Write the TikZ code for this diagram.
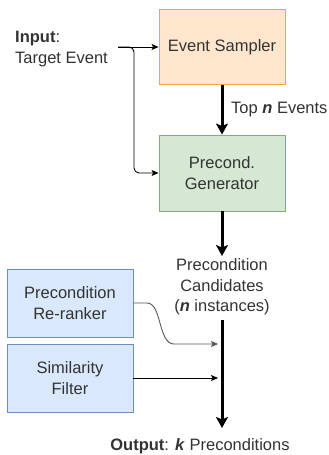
\documentclass[tikz,border=0pt]{standalone}
\usepackage{fontspec}
\setmainfont{Liberation Sans}
\usetikzlibrary{arrows.meta}
\definecolor{txt}{HTML}{333333}
\definecolor{orfill}{HTML}{FFE6CC}
\definecolor{ordraw}{HTML}{E8AE30}
\definecolor{grfill}{HTML}{D5E8D4}
\definecolor{grdraw}{HTML}{82B366}
\definecolor{blfill}{HTML}{DAE8FC}
\definecolor{bldraw}{HTML}{6C8EBF}
\tikzset{
  lbl/.style={font=\fontsize{16.5}{20.5}\selectfont, text=txt, align=center, inner sep=0pt},
  box/.style={lbl, minimum width=126pt, line width=0.9pt},
  thin/.style={line width=0.9pt, -{Stealth[length=7pt,width=6pt,inset=1.5pt]}},
  thick/.style={line width=3pt, -{Stealth[length=11pt,width=12pt,inset=2.5pt]}},
}
\begin{document}
\begin{tikzpicture}[x=1pt,y=-1pt]
\useasboundingbox (0,0) rectangle (329,455);
\fill[white] (0,0) rectangle (329,455);
% boxes
\node[box, fill=orfill, draw=ordraw, minimum height=75pt] (samp) at (222,47) {Event Sampler};
\node[box, fill=grfill, draw=grdraw, minimum height=76pt] (gen) at (222,173) {Precond.\\Generator};
\node[box, fill=blfill, draw=bldraw, minimum height=68pt] (rer) at (70,303) {Precondition\\Re-ranker};
\node[box, fill=blfill, draw=bldraw, minimum height=68pt] (sim) at (70,378) {Similarity\\Filter};
% texts
\node[lbl, align=left, anchor=west] (inp) at (15,49) {\textbf{Input}:\\Target Event};
\node[lbl, anchor=west] (topn) at (231,110) {Top \textbf{\textit{n}} Events};
\node[lbl] (cand) at (222,287) {Precondition\\Candidates\\(\textbf{\textit{n}} instances)};
\node[lbl] (out) at (200,446) {\textbf{Output}: \textbf{\textit{k}} Preconditions};
% coordinates
\coordinate (inS) at (118,47);
\coordinate (candTop) at (222,256);
\coordinate (candBot) at (222,320);
\coordinate (outTop) at (222,428);
\coordinate (rerIn) at (218,344);
\coordinate (simIn) at (218,378);
% connectors
\draw[thin, black] (inS) -- (samp.west |- inS);
\draw[thin, black, rounded corners=5pt] (inS) -- (134,47) -- (134,173) -- (gen.west);
\draw[thick] (samp.south) -- (gen.north);
\draw[thick] (gen.south) -- (candTop);
\draw[thick] (candBot) -- (outTop);
\draw[thin, black!65] (rer.east |- 0,303) -- (147,303) .. controls (162,303) and (158,344) .. (174,344) -- (rerIn);
\draw[thin, black] (sim.east) -- (simIn);
\end{tikzpicture}
\end{document}
